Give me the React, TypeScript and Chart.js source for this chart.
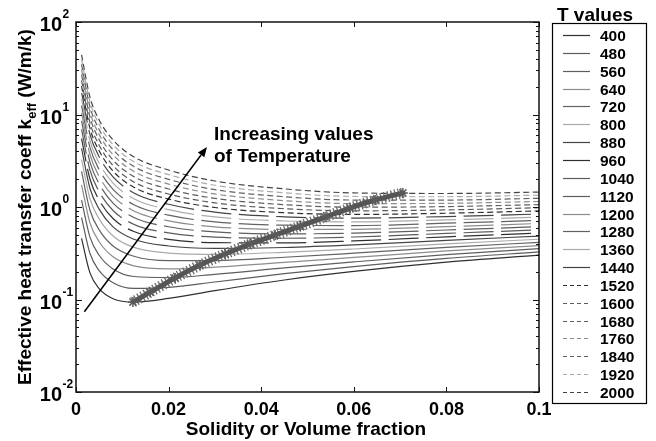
import React, { useEffect, useRef } from 'react';
import { Chart, registerables } from 'chart.js';

Chart.register(...registerables);

// ---------- data ----------
const SOLIDITY = [0.0012, 0.003, 0.005, 0.008, 0.0125, 0.02, 0.03, 0.045, 0.06, 0.08, 0.1];
const T_VALUES = [400, 480, 560, 640, 720, 800, 880, 960, 1040, 1120, 1200, 1280, 1360, 1440, 1520, 1600, 1680, 1760, 1840, 1920, 2000];

const K_400 = [0.457, 0.195, 0.131, 0.102, 0.0937, 0.1026, 0.1248, 0.1626, 0.201, 0.253, 0.302];
const K_480 = [0.768, 0.316, 0.205, 0.152, 0.1318, 0.135, 0.1545, 0.19, 0.227, 0.2785, 0.327];
const K_560 = [1.189, 0.475, 0.301, 0.214, 0.1772, 0.1722, 0.1873, 0.2196, 0.2549, 0.3057, 0.354];
const K_640 = [1.738, 0.678, 0.4207, 0.2892, 0.2309, 0.2147, 0.2236, 0.2515, 0.2848, 0.335, 0.3831];
const K_720 = [2.425, 0.929, 0.5662, 0.3791, 0.2931, 0.2627, 0.2636, 0.2861, 0.3168, 0.3664, 0.4143];
const K_800 = [3.28, 1.235, 0.7422, 0.4858, 0.3657, 0.3174, 0.3082, 0.3239, 0.3516, 0.4002, 0.448];
const K_880 = [4.295, 1.596, 0.9476, 0.609, 0.448, 0.3786, 0.3571, 0.365, 0.389, 0.4365, 0.4845];
const K_960 = [5.497, 2.02, 1.187, 0.7513, 0.5425, 0.4474, 0.4114, 0.4099, 0.4296, 0.4759, 0.524];
const K_1040 = [6.907, 2.513, 1.464, 0.9157, 0.6496, 0.525, 0.4716, 0.4591, 0.4737, 0.5183, 0.5667];
const K_1120 = [8.525, 3.076, 1.78, 1.102, 0.7704, 0.6117, 0.5377, 0.5127, 0.5217, 0.5643, 0.6131];
const K_1200 = [10.38, 3.718, 2.138, 1.313, 0.9068, 0.7087, 0.6111, 0.5715, 0.5736, 0.6139, 0.6631];
const K_1280 = [12.46, 4.44, 2.541, 1.55, 1.059, 0.8166, 0.6921, 0.6357, 0.63, 0.6679, 0.7172];
const K_1360 = [14.75, 5.233, 2.984, 1.812, 1.228, 0.9357, 0.7804, 0.7058, 0.6913, 0.7257, 0.7755];
const K_1440 = [17.39, 6.145, 3.493, 2.112, 1.42, 1.07, 0.8795, 0.7829, 0.758, 0.7885, 0.8389];
const K_1520 = [20.31, 7.156, 4.055, 2.447, 1.634, 1.219, 0.9881, 0.8673, 0.8306, 0.8566, 0.9072];
const K_1600 = [23.4, 8.228, 4.657, 2.808, 1.865, 1.382, 1.107, 0.959, 0.9091, 0.9301, 0.9813];
const K_1680 = [26.97, 9.465, 5.348, 3.222, 2.129, 1.567, 1.239, 1.06, 0.995, 1.01, 1.061];
const K_1760 = [30.78, 10.79, 6.094, 3.674, 2.419, 1.77, 1.384, 1.171, 1.088, 1.096, 1.148];
const K_1840 = [34.83, 12.21, 6.891, 4.163, 2.734, 1.991, 1.542, 1.291, 1.189, 1.189, 1.241];
const K_1920 = [39.41, 13.81, 7.796, 4.716, 3.091, 2.241, 1.718, 1.423, 1.3, 1.291, 1.343];
const K_2000 = [44.2, 15.5, 8.74, 5.31, 3.48, 2.51, 1.91, 1.57, 1.42, 1.4, 1.45];

const K_CURVES = [K_400, K_480, K_560, K_640, K_720, K_800, K_880, K_960, K_1040, K_1120, K_1200,
  K_1280, K_1360, K_1440, K_1520, K_1600, K_1680, K_1760, K_1840, K_1920, K_2000];

// locus of minima (star markers)
const MIN_SOLIDITY = [0.0123, 0.016, 0.0214, 0.0268, 0.0322, 0.0376, 0.043, 0.0484, 0.0538, 0.0592, 0.0646, 0.0706];
const MIN_K = [0.0937, 0.12, 0.171, 0.236, 0.31, 0.398, 0.498, 0.622, 0.779, 0.975, 1.19, 1.42];

const X_TICKS = [0, 0.02, 0.04, 0.06, 0.08, 0.1];
const X_TICK_LABELS = ['0', '0.02', '0.04', '0.06', '0.08', '0.1'];
const Y_EXPONENTS = [-2, -1, 0, 1, 2];

const ARROW_FROM = [0.0018, 0.0736];
const ARROW_TO = [0.0283, 4.46];
const NOTE_LINES = ['Increasing values', 'of Temperature'];
const X_TITLE = 'Solidity or Volume fraction';
const Y_TITLE_MAIN = 'Effective heat transfer coeff k';
const Y_TITLE_SUB = 'eff';
const Y_TITLE_END = ' (W/m/k)';
const LEGEND_TITLE = 'T values';

// ---------- styles ----------
const FONT = '"Liberation Sans", Arial, Helvetica, sans-serif';
const CYCLE_COLORS = ['#303030', '#5c5c5c', '#5e5e5e', '#8c8c8c', '#626262', '#ababab', '#444444'];
const LONG_DASH = [30, 7.5];
const SHORT_DASH = [6, 3.5];
const GROUP_DASH = [[], LONG_DASH, SHORT_DASH];
const GAP_ANCHOR_X = 0.0749; // a column where the long-dash gaps line up

const styleFor = (i: number) => ({
  color: CYCLE_COLORS[i % 7],
  dash: GROUP_DASH[Math.floor(i / 7)],
});

const decor = {
  id: 'decor',
  beforeDatasetDraw(chart: any, args: any) {
    const ds = chart.data.datasets[args.index];
    if (!ds || !ds.alignDash) return;
    const pts = args.meta.data;
    const target = chart.scales.x.getPixelForValue(GAP_ANCHOR_X);
    let s = 0;
    for (let k = 1; k < pts.length; k++) {
      const a = pts[k - 1], b = pts[k];
      const segLen = Math.hypot(b.x - a.x, b.y - a.y);
      if (b.x >= target) {
        const f = (target - a.x) / (b.x - a.x);
        s += segLen * f;
        break;
      }
      s += segLen;
    }
    const period = LONG_DASH[0] + LONG_DASH[1];
    const gapCenter = LONG_DASH[0] + LONG_DASH[1] / 2;
    const off = (((gapCenter - s) % period) + period) % period;
    try {
      args.meta.dataset.options.borderDashOffset = off;
    } catch (e) {
      /* ignore */
    }
  },
  afterDatasetsDraw(chart: any) {
    const ctx = chart.ctx as CanvasRenderingContext2D;
    const xs = chart.scales.x;
    const ys = chart.scales.y;
    ctx.save();
    const x0 = xs.getPixelForValue(ARROW_FROM[0]);
    const y0 = ys.getPixelForValue(ARROW_FROM[1]);
    const x1 = xs.getPixelForValue(ARROW_TO[0]);
    const y1 = ys.getPixelForValue(ARROW_TO[1]);
    const ang = Math.atan2(y1 - y0, x1 - x0);
    const hl = 10, hw = 4;
    const bx = x1 - hl * Math.cos(ang);
    const by = y1 - hl * Math.sin(ang);
    ctx.strokeStyle = '#000';
    ctx.lineWidth = 1.5;
    ctx.setLineDash([]);
    ctx.beginPath();
    ctx.moveTo(x0, y0);
    ctx.lineTo(bx, by);
    ctx.stroke();
    ctx.beginPath();
    ctx.moveTo(x1, y1);
    ctx.lineTo(bx + hw * Math.sin(ang), by - hw * Math.cos(ang));
    ctx.lineTo(bx - hw * Math.sin(ang), by + hw * Math.cos(ang));
    ctx.closePath();
    ctx.fillStyle = '#000';
    ctx.fill();
    ctx.font = `bold 19px ${FONT}`;
    ctx.textAlign = 'left';
    ctx.textBaseline = 'alphabetic';
    ctx.fillText(NOTE_LINES[0], 214, 140);
    ctx.fillText(NOTE_LINES[1], 214, 162);
    ctx.restore();
  },
  afterDraw(chart: any) {
    const ctx = chart.ctx as CanvasRenderingContext2D;
    const xs = chart.scales.x;
    const ys = chart.scales.y;
    const { left, right, top, bottom } = chart.chartArea;
    ctx.save();
    ctx.setLineDash([]);
    ctx.strokeStyle = '#111';
    ctx.lineWidth = 1.5;
    ctx.strokeRect(left, top, right - left, bottom - top);
    ctx.lineWidth = 1;
    const seg = (ax: number, ay: number, bx: number, by: number) => {
      ctx.beginPath();
      ctx.moveTo(ax, ay);
      ctx.lineTo(bx, by);
      ctx.stroke();
    };
    X_TICKS.forEach((v) => {
      const px = Math.round(xs.getPixelForValue(v)) + 0.5;
      seg(px, bottom, px, bottom - 5);
      seg(px, top, px, top + 5);
    });
    for (let e = -2; e <= 2; e++) {
      for (let m = 1; m <= 9; m++) {
        if (e === 2 && m > 1) break;
        const v = m * Math.pow(10, e);
        const py = Math.round(ys.getPixelForValue(v)) + 0.5;
        const len = m === 1 ? 6 : 3;
        seg(left, py, left + len, py);
        seg(right, py, right - len, py);
      }
    }
    ctx.fillStyle = '#000';
    ctx.font = `bold 18px ${FONT}`;
    ctx.textAlign = 'center';
    ctx.textBaseline = 'alphabetic';
    X_TICKS.forEach((v, k) => {
      ctx.fillText(X_TICK_LABELS[k], xs.getPixelForValue(v), 415);
    });
    Y_EXPONENTS.forEach((e) => {
      const py = ys.getPixelForValue(Math.pow(10, e));
      ctx.font = `bold 20px ${FONT}`;
      ctx.textAlign = 'right';
      ctx.fillText('10', 62, py + 9);
      ctx.font = `bold 12px ${FONT}`;
      ctx.textAlign = 'left';
      ctx.fillText(String(e), 62.5, py - 4);
    });
    ctx.font = `bold 19px ${FONT}`;
    ctx.textAlign = 'center';
    ctx.fillText(X_TITLE, 306, 435);
    ctx.save();
    ctx.translate(31, 207);
    ctx.rotate(-Math.PI / 2);
    ctx.textAlign = 'left';
    const mainF = `bold 19px ${FONT}`;
    const subF = `bold 13px ${FONT}`;
    ctx.font = mainF;
    const w1 = ctx.measureText(Y_TITLE_MAIN).width;
    const w3 = ctx.measureText(Y_TITLE_END).width;
    ctx.font = subF;
    const w2 = ctx.measureText(Y_TITLE_SUB).width;
    let sx = -(w1 + w2 + w3) / 2;
    ctx.font = mainF;
    ctx.fillText(Y_TITLE_MAIN, sx, 0);
    sx += w1;
    ctx.font = subF;
    ctx.fillText(Y_TITLE_SUB, sx, 5);
    sx += w2;
    ctx.font = mainF;
    ctx.fillText(Y_TITLE_END, sx, 0);
    ctx.restore();
    ctx.font = `bold 19px ${FONT}`;
    ctx.textAlign = 'center';
    ctx.fillText(LEGEND_TITLE, 595, 21);
    ctx.lineWidth = 1.2;
    ctx.strokeStyle = '#000';
    ctx.strokeRect(552.5, 23.5, 94, 380);
    ctx.font = `bold 15.5px ${FONT}`;
    ctx.textAlign = 'left';
    ctx.textBaseline = 'middle';
    T_VALUES.forEach((t, i) => {
      const ry = Math.round(35 + 17.85 * i) + 0.5;
      const st = styleFor(i);
      ctx.strokeStyle = st.color;
      ctx.lineWidth = 1.2;
      ctx.setLineDash(i >= 14 ? [4, 3] : []);
      seg(563, ry, 590, ry);
      ctx.setLineDash([]);
      ctx.fillStyle = '#000';
      ctx.fillText(String(t), 600, ry + 1);
    });
    ctx.restore();
  },
};

export default function App() {
  const ref = useRef<HTMLCanvasElement>(null);
  useEffect(() => {
    const datasets: any[] = K_CURVES.map((arr, i) => {
      const st = styleFor(i);
      return {
        label: String(T_VALUES[i]),
        data: SOLIDITY.map((x, j) => ({ x, y: arr[j] })),
        borderColor: st.color,
        borderWidth: 1.2,
        borderDash: st.dash,
        alignDash: st.dash === LONG_DASH,
        pointRadius: 0,
        fill: false,
        cubicInterpolationMode: 'monotone',
        order: 3,
      };
    });
    const minPoints = MIN_SOLIDITY.map((x, j) => ({ x, y: MIN_K[j] }));
    datasets.push({
      label: 'minimum-halo',
      data: minPoints,
      borderColor: '#6e6e6e',
      borderWidth: 11,
      borderDash: [1.3, 2.2],
      borderCapStyle: 'butt',
      pointRadius: 0,
      fill: false,
      tension: 0.3,
      order: 1,
    });
    datasets.push({
      label: 'minimum',
      data: minPoints,
      borderColor: '#555555',
      borderWidth: 5,
      pointStyle: 'star',
      pointRadius: 5,
      pointBorderColor: '#5a5a5a',
      pointBorderWidth: 1.5,
      pointBackgroundColor: '#5a5a5a',
      fill: false,
      tension: 0.3,
      order: 0,
    });
    const chart = new Chart(ref.current as HTMLCanvasElement, {
      type: 'line',
      data: { datasets },
      options: {
        animation: false,
        responsive: false,
        maintainAspectRatio: false,
        layout: { padding: { left: 76, top: 22, right: 117, bottom: 49 } },
        plugins: { legend: { display: false }, tooltip: { enabled: false } },
        scales: {
          x: { type: 'linear', min: 0, max: 0.1, display: false },
          y: { type: 'logarithmic', min: 0.01, max: 100, display: false },
        },
      } as any,
      plugins: [decor],
    });
    return () => chart.destroy();
  }, []);
  return (
    <div style={{ position: 'fixed', left: 0, top: 0, width: 656, height: 441, background: '#fff' }}>
      <canvas ref={ref} width={656} height={441} style={{ display: 'block', width: 656, height: 441 }} />
    </div>
  );
}
